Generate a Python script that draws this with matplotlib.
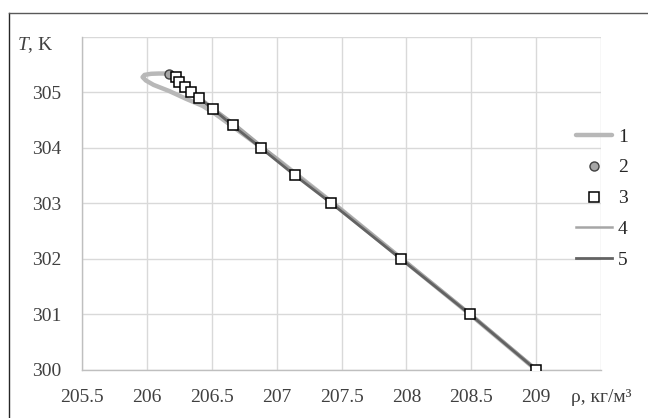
import matplotlib
matplotlib.use("Agg")
import matplotlib.pyplot as plt
from matplotlib.lines import Line2D

# series 1: thick light curve with a hook at the top
rho1 = [209.0, 208.5, 208.0, 207.5, 207.0, 206.66, 206.53, 206.43, 206.30, 206.17,
        206.05, 205.99, 205.965, 205.98, 206.03, 206.09, 206.15]
T1 = [300.0, 300.98, 301.93, 302.88, 303.8, 304.38, 304.6, 304.75, 304.88, 305.02,
      305.13, 305.21, 305.27, 305.31, 305.33, 305.335, 305.335]

# series 2: single point
rho2 = [206.17]
T2 = [305.32]

# series 3: square markers
rho3 = [206.225, 206.245, 206.29, 206.34, 206.40, 206.505, 206.66, 206.875,
        207.14, 207.42, 207.955, 208.49, 209.0]
T3 = [305.27, 305.19, 305.1, 305.0, 304.89, 304.7, 304.4, 304.0,
      303.5, 303.0, 302.0, 301.0, 300.0]

# series 4 and 5: thin lines along the squares
rho4 = [206.2, 206.3, 206.42, 206.53, 206.69, 206.9, 207.16, 207.44, 207.97, 208.5, 209.01]
T4 = [305.28, 305.08, 304.88, 304.68, 304.4, 304.0, 303.5, 303.0, 302.0, 301.0, 300.0]
rho5 = [206.18, 206.29, 206.40, 206.505, 206.66, 206.875, 207.14, 207.42, 207.955, 208.49, 209.0]
T5 = [305.3, 305.1, 304.89, 304.7, 304.4, 304.0, 303.5, 303.0, 302.0, 301.0, 300.0]

x_ticks = [205.5, 206, 206.5, 207, 207.5, 208, 208.5, 209, 209.5]
x_labels = ["205.5", "206", "206.5", "207", "207.5", "208", "208.5", "209", "ρ, кг/м³"]
y_ticks = [300, 301, 302, 303, 304, 305, 306]
y_labels = ["300", "301", "302", "303", "304", "305", ""]

plt.rcParams["font.family"] = ["Liberation Serif", "DejaVu Serif"]
plt.rcParams["mathtext.fontset"] = "custom"
plt.rcParams["mathtext.rm"] = "Liberation Serif"
plt.rcParams["mathtext.it"] = "Liberation Serif:italic"

fig = plt.figure(figsize=(6.48, 4.18), dpi=100)
ax = fig.add_axes([0.127, 0.115, 0.8005, 0.7975])

grid_c = "#d9d9d9"
ax.plot(rho1, T1, color="#b8b8b8", lw=3.2, solid_capstyle="round", label="1", zorder=2)
ax.plot(rho4, T4, color="#a6a6a6", lw=1.8, label="4", zorder=3)
ax.plot(rho5, T5, color="#636363", lw=2.0, label="5", zorder=4)
ax.plot(rho2, T2, ls="none", marker="o", ms=6.5, mfc="#a6a6a6", mec="#404040",
        mew=1.0, label="2", zorder=5)
ax.plot(rho3, T3, ls="none", marker="s", ms=6.5, mfc="white", mec="black",
        mew=1.1, label="3", zorder=6)

ax.set_xlim(205.5, 209.5)
ax.set_ylim(300, 306)
ax.set_xticks(x_ticks)
ax.set_xticklabels(x_labels)
ax.set_yticks(y_ticks)
ax.set_yticklabels(y_labels)
ax.tick_params(length=0, labelsize=14, labelcolor="#404040")
ax.tick_params(axis="x", pad=14)
ax.tick_params(axis="y", pad=15)
ax.grid(True, color=grid_c, lw=1.0)
ax.set_axisbelow(True)
for s in ["top", "right"]:
    ax.spines[s].set_visible(False)
for s in ["left", "bottom"]:
    ax.spines[s].set_color("#bfbfbf")
    ax.spines[s].set_linewidth(1.0)

# y axis title sits at the top, left of the tick column
fig.text(17 / 648, 1 - 45 / 418, r"$\mathit{T}$, K", fontsize=14, color="#404040",
         ha="left", va="center")

handles, labels = ax.get_legend_handles_labels()
order = [labels.index(k) for k in ["1", "2", "3", "4", "5"]]
ax.legend([handles[i] for i in order], [labels[i] for i in order],
          loc="center left", bbox_to_anchor=(576 / 648, 1 - 198.5 / 418),
          bbox_transform=fig.transFigure, frameon=False, fontsize=14,
          borderpad=0, borderaxespad=0, handlelength=1.85, handletextpad=0.3,
          labelspacing=0.68, labelcolor="#262626")

# outer chart border (left and top edges visible)
fig.add_artist(Line2D([9 / 648, 9 / 648], [0, 1 - 13 / 418], color="#262626", lw=1.0))
fig.add_artist(Line2D([9 / 648, 1], [1 - 13 / 418, 1 - 13 / 418], color="#595959", lw=1.0))

fig.savefig("out.png", dpi=100)
